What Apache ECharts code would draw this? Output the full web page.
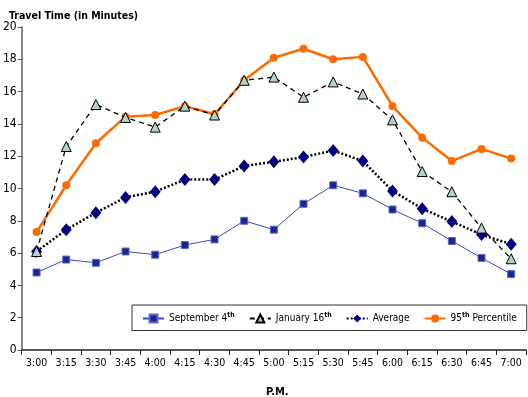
<!DOCTYPE html>
<html>
<head>
<meta charset="utf-8">
<script src="https://cdn.jsdelivr.net/npm/echarts@6/dist/echarts.min.js"></script>
<style>
html, body { margin: 0; padding: 0; background: #fff; }
#chart { width: 528px; height: 397px; }
</style>
</head>
<body>
<div id="chart"></div>
<script>
// 时段 (P.M.)
var timeLabels = ['3:00', '3:15', '3:30', '3:45', '4:00', '4:15', '4:30', '4:45', '5:00',
	'5:15', '5:30', '5:45', '6:00', '6:15', '6:30', '6:45', '7:00'];

var sept4 = [4.8, 5.6, 5.4, 6.1, 5.9, 6.5, 6.85, 8.0, 7.45, 9.05, 10.2, 9.7, 8.7, 7.85, 6.75, 5.7, 4.7];
var jan16 = [6.1, 12.6, 15.2, 14.4, 13.8, 15.1, 14.55, 16.7, 16.9, 15.65, 16.6, 15.85, 14.25, 11.05, 9.8, 7.55, 5.65];
var average = [6.1, 7.45, 8.5, 9.45, 9.8, 10.55, 10.55, 11.4, 11.65, 11.95, 12.35, 11.7, 9.85, 8.75, 7.95, 7.15, 6.55];
var pct95 = [7.3, 10.2, 12.8, 14.45, 14.55, 15.1, 14.6, 16.7, 18.1, 18.65, 18.0, 18.15, 15.1, 13.15, 11.7, 12.45, 11.85];

var yTicks = { min: 0, max: 20, interval: 2 };

var font = "'DejaVu Sans Condensed', 'Liberation Sans Narrow', 'Liberation Sans', sans-serif";

function showTravelChart(divId) {
	var chart = echarts.init(document.getElementById(divId), null, { renderer: 'canvas' });
	var option = genTravelOption();
	chart.setOption(option, true);
}

function genTravelOption() {
	var option = {
		animation : false,
		textStyle : { fontFamily : font },
		title : [ {
			text : 'Travel Time (in Minutes)',
			left : 4,
			top : 6,
			textStyle : { fontFamily : font, fontSize : 10.5, fontWeight : 'bold', color : '#000' }
		}, {
			text : 'P.M.',
			left : 261,
			top : 382,
			textStyle : { fontFamily : font, fontSize : 11, fontWeight : 'bold', color : '#000' }
		} ],
		legend : {
			left : 132,
			top : 305,
			width : 375,
			padding : [ 7, 10 ],
			itemGap : 14,
			itemWidth : 21,
			itemHeight : 10,
			borderColor : '#333',
			borderWidth : 1,
			backgroundColor : '#fff',
			data : [ 'September 4th', 'January 16th', 'Average', '95th Percentile' ],
			formatter : function(name) {
				return name.replace(/(\d)th/, '$1{s|th}');
			},
			textStyle : {
				fontFamily : font,
				fontSize : 10,
				color : '#000',
				rich : {
					s : { fontFamily : font, fontSize : 7, fontWeight : 'bold', padding : [ 0, 0, 6, 0 ] }
				}
			}
		},
		grid : {
			left : 21,
			right : 2,
			top : 27,
			bottom : 47
		},
		xAxis : {
			type : 'category',
			data : timeLabels,
			boundaryGap : true,
			axisLine : { lineStyle : { color : '#222', width : 1.5 } },
			axisTick : { show : true, length : 5, lineStyle : { color : '#222' } },
			axisLabel : { fontFamily : font, fontSize : 10.5, color : '#000', margin : 8 },
			splitLine : { show : false }
		},
		yAxis : {
			type : 'value',
			min : yTicks.min,
			max : yTicks.max,
			interval : yTicks.interval,
			axisLine : { show : true, lineStyle : { color : '#888', width : 2 } },
			axisTick : { show : true, length : 4, lineStyle : { color : '#555' } },
			axisLabel : { fontFamily : font, fontSize : 12, color : '#000', margin : 5 },
			splitLine : { show : false }
		},
		series : [ {
			name : 'September 4th',
			type : 'line',
			data : sept4,
			z : 3,
			symbol : 'rect',
			symbolSize : 7,
			lineStyle : { color : '#3a4cb4', width : 1 },
			itemStyle : { color : '#1c2490', borderColor : '#5a6cc8', borderWidth : 1 }
		}, {
			name : 'January 16th',
			type : 'line',
			data : jan16,
			z : 5,
			symbol : 'triangle',
			symbolSize : 10,
			lineStyle : { color : '#000', width : 1.3, type : [ 5, 4 ] },
			itemStyle : { color : '#b4d2c6', borderColor : '#000', borderWidth : 1 }
		}, {
			name : 'Average',
			type : 'line',
			data : average,
			z : 4,
			symbol : 'diamond',
			symbolSize : [ 11, 13 ],
			lineStyle : { color : '#000', width : 2.5, type : [ 2, 2 ] },
			itemStyle : { color : '#000080' }
		}, {
			name : '95th Percentile',
			type : 'line',
			data : pct95,
			z : 2,
			symbol : 'circle',
			symbolSize : 8,
			lineStyle : { color : '#ff6a00', width : 2.5 },
			itemStyle : { color : '#ff6a00' }
		} ]
	};
	return option;
}

showTravelChart('chart');
</script>
</body>
</html>
